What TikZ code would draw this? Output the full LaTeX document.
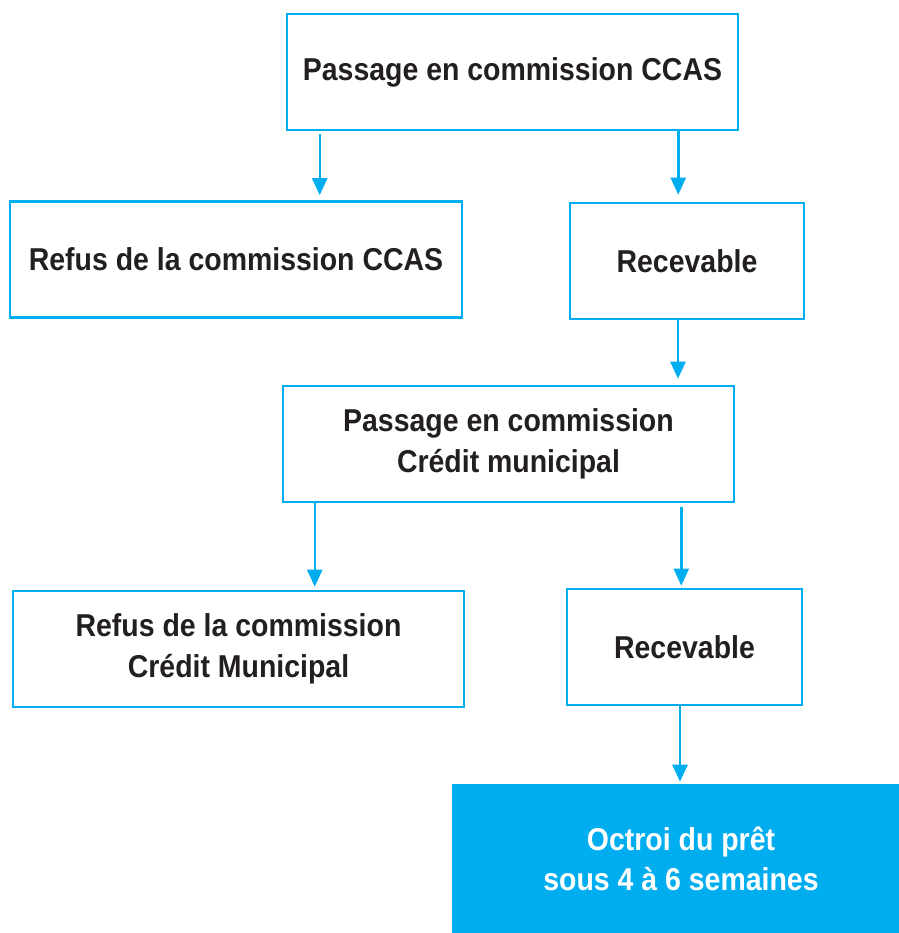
\documentclass[tikz,border=0pt]{standalone}
\usepackage{fontspec}
\setmainfont{Liberation Sans}[FakeStretch=0.9]
\usepackage{tikz}
\usetikzlibrary{arrows.meta}
\usetikzlibrary{calc,positioning}
\definecolor{ccasblue}{HTML}{00AEEF}
\definecolor{ccastext}{HTML}{231F20}

\begin{document}
\begin{tikzpicture}[x=0.02cm,y=-0.02cm]
		\useasboundingbox (0,0) rectangle (899,933);

		\begin{scope}[every node/.style={draw=ccasblue,line width=1.5pt,text=ccastext,align=center,font=\fontsize{18}{23}\selectfont\bfseries,minimum height=2.32cm}]
			\node[minimum width=9.02cm] (B1) at (512.5,72) {Passage en commission CCAS};
			\node[minimum width=9.04cm] (B2) at (236,259.5) {Refus de la commission CCAS};
			\node[minimum width=4.68cm] (B3) at (687,261) {Recevable};
			\node[minimum width=9.02cm] (B4) at (508.5,444) {Passage en commission\\Crédit municipal};
			\node[minimum width=9.02cm] (B5) at (238.5,649) {Refus de la commission\\Crédit Municipal};
			\node[minimum width=4.70cm] (B6) at (684.5,647) {Recevable};
			\node[fill=ccasblue,text=white,minimum width=9.12cm,minimum height=2.96cm] (B7) at (681,859) {Octroi du prêt\\sous 4 à 6 semaines};
		\end{scope}

		% start points of the arrows
		\coordinate (a1) at ($(B1.south west)+(34,3)$);
		\coordinate (a2) at ($(B1.south east)+(-61,0)$);
		\coordinate (a3) at ($(B3.south)+(-9,0)$);
		\coordinate (a4) at ($(B4.south west)+(33,0)$);
		\coordinate (a5) at ($(B4.south east)+(-54,4)$);
		\coordinate (a6) at ($(B6.south)+(-4.5,0)$);

		\begin{scope}[>={Triangle[length=0.34cm,width=0.3cm]},draw=ccasblue,line width=1.4pt]
			\draw[->,shorten >=0.1cm] (a1) -- (a1 |- B2.north);
			\draw[->,shorten >=0.14cm] (a2) -- (a2 |- B3.north);
			\draw[->,shorten >=0.12cm] (a3) -- (a3 |- B4.north);
			\draw[->,shorten >=0.06cm] (a4) -- (a4 |- B5.north);
			\draw[->,shorten >=0.04cm] (a5) -- (a5 |- B6.north);
			\draw[->,shorten >=0.04cm] (a6) -- (a6 |- B7.north);
		\end{scope}
	\end{tikzpicture}
\end{document}
